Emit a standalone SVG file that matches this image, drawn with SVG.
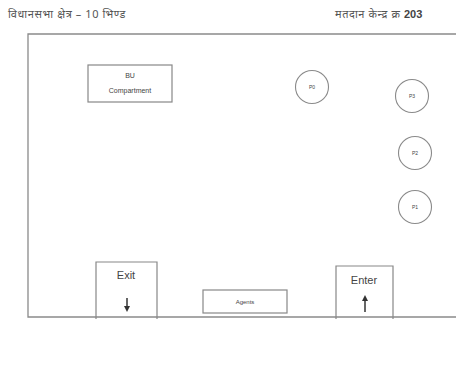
<svg xmlns="http://www.w3.org/2000/svg" width="456" height="378" viewBox="0 0 456 378">
<style>
.frame{fill:none;stroke:#8a8a8a;stroke-width:1.3}
.box{fill:#fff;stroke:#888;stroke-width:1.2}
.open{fill:none;stroke:#888;stroke-width:1.2}
.circ{fill:#fff;stroke:#8a8a8a;stroke-width:1.1}
.t{font-family:"Liberation Sans",Arial,sans-serif;fill:#444;text-anchor:middle}
.hi{font-family:"Noto Sans","Noto Sans Devanagari","DejaVu Sans",sans-serif;fill:#555;font-size:11px;letter-spacing:0.6px}
.arr{stroke:#333;stroke-width:1.5;fill:none}
.head{fill:#333}
</style>
<rect width="456" height="378" fill="#fff"/>
<text class="hi" x="8" y="18">विधानसभा क्षेत्र – 10 भिण्ड</text>
<text class="hi" x="335" y="18">मतदान केन्द्र क्र <tspan font-weight="bold" font-family="Liberation Sans,sans-serif" fill="#444" letter-spacing="0">203</tspan></text>
<g id="frame">
<path class="frame" d="M456 34 H28 V317 H456"/>
</g>
<g id="bu">
<rect class="box" x="88" y="65" width="84" height="37"/>
<text class="t" x="130" y="78" font-size="7">BU</text>
<text class="t" x="130" y="93" font-size="7">Compartment</text>
</g>
<g id="p0">
<circle class="circ" cx="312" cy="87" r="16.5"/>
<text class="t" x="312" y="89" font-size="5">P0</text>
</g>
<g id="p3">
<circle class="circ" cx="412" cy="96" r="16.5"/>
<text class="t" x="412" y="98" font-size="5">P3</text>
</g>
<g id="p2">
<circle class="circ" cx="415" cy="153" r="16.5"/>
<text class="t" x="415" y="155" font-size="5">P2</text>
</g>
<g id="p1">
<circle class="circ" cx="415" cy="207" r="16.5"/>
<text class="t" x="415" y="209" font-size="5">P1</text>
</g>
<g id="exit">
<path class="open" d="M96 319 V262 H157 V319"/>
<text class="t" x="126" y="279" font-size="11">Exit</text>
<path class="arr" d="M127 298 V307"/>
<path class="head" d="M124 306 L130 306 L127 312 Z"/>
</g>
<g id="agents">
<rect class="box" x="203" y="290" width="84" height="23"/>
<text class="t" x="245" y="304" font-size="6">Agents</text>
</g>
<g id="enter">
<path class="open" d="M336 319 V266 H393 V319"/>
<text class="t" x="364" y="284" font-size="11">Enter</text>
<path class="arr" d="M365 300 V312"/>
<path class="head" d="M362 301 L368 301 L365 295 Z"/>
</g>
<g id="connectors"></g>
</svg>
